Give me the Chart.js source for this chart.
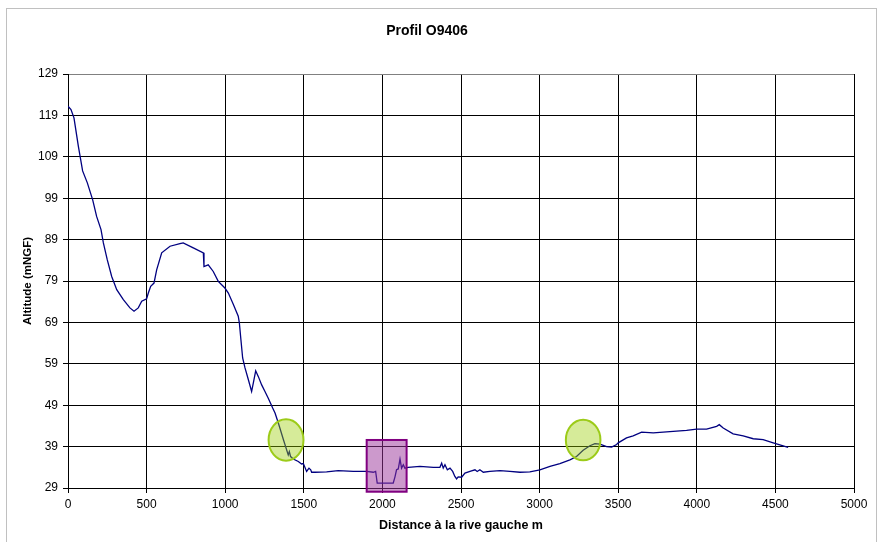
<!DOCTYPE html>
<html>
<head>
<meta charset="utf-8">
<title>Profil O9406</title>
<script src="https://cdn.jsdelivr.net/npm/chart.js@4"></script>
<style>
    body { margin: 0; background: #fff; }
    #wrap { width: 880px; height: 542px; }
</style>
</head>
<body>
<div id="wrap"><canvas id="profilChart" width="880" height="542"></canvas></div>
<script>
// Profil en travers - distances (m) et altitudes (mNGF)
const distances = [
    0, 19, 38, 66, 93, 123, 157, 182, 210, 225, 250, 278, 310, 352, 394, 420, 447, 469, 500, 511,
    526, 547, 564, 596, 649, 712, 733, 797, 861, 865, 892, 924, 956, 998, 1020, 1052, 1083, 1090, 1100, 1111,
    1126, 1147, 1168, 1179, 1194, 1211, 1232, 1253, 1274, 1302, 1317, 1338, 1370, 1401, 1408, 1416, 1433, 1465, 1486, 1497,
    1518, 1533, 1544, 1550, 1571, 1645, 1719, 1815, 1900, 1942, 1957, 1967, 2069, 2080, 2090, 2101, 2112, 2122, 2133, 2143,
    2164, 2239, 2324, 2366, 2377, 2387, 2398, 2413, 2430, 2447, 2461, 2472, 2482, 2504, 2525, 2557, 2589, 2603, 2620, 2642,
    2684, 2748, 2811, 2875, 2938, 3002, 3066, 3129, 3193, 3235, 3277, 3320, 3352, 3384, 3426, 3458, 3490, 3500, 3553, 3595,
    3649, 3723, 3850, 3935, 3999, 4062, 4126, 4143, 4168, 4231, 4295, 4359, 4422, 4486, 4581
];
const altitudes = [
    121.2, 120.4, 118.4, 111.5, 105.6, 102.7, 98.6, 94.6, 91.4, 88.2, 84.1, 80.1, 76.9, 74.5, 72.5, 71.7, 72.5, 74.1, 74.7, 76.1,
    77.7, 78.5, 81.7, 85.8, 87.4, 88.0, 88.2, 87.0, 85.8, 82.5, 82.9, 81.3, 78.9, 77.3, 76.1, 73.3, 70.5, 68.9, 64.8, 60.4,
    58.0, 55.2, 52.3, 54.4, 57.3, 55.9, 53.9, 52.3, 50.7, 48.3, 47.1, 44.7, 40.7, 37.0, 37.8, 36.6, 36.0, 35.4, 34.8, 34.9,
    33.0, 33.8, 33.4, 32.8, 32.8, 32.9, 33.2, 33.0, 33.0, 32.8, 33.0, 30.2, 30.2, 31.7, 33.4, 33.6, 36.0, 33.8, 34.6, 33.8,
    34.0, 34.2, 34.0, 34.0, 35.0, 33.8, 34.6, 33.4, 33.8, 33.0, 31.8, 31.2, 31.7, 31.6, 32.6, 33.0, 33.4, 33.0, 33.4, 32.8,
    33.0, 33.2, 33.0, 32.8, 32.9, 33.4, 34.2, 34.9, 35.8, 36.6, 38.1, 39.2, 39.7, 39.6, 39.0, 38.9, 39.5, 39.9, 41.1, 41.6,
    42.5, 42.3, 42.7, 42.9, 43.2, 43.2, 43.9, 44.3, 43.5, 42.1, 41.6, 40.9, 40.7, 39.9, 38.8
];

// Zones mises en évidence (unités du graphe : m / mNGF)
const zonesEllipse = [
    { x: 1387, y: 40.6, rx: 111, ry: 5.0 },
    { x: 3277, y: 40.6, rx: 110, ry: 4.9 }
];
const zonesRect = [
    { x0: 1900, x1: 2154, y0: 40.6, y1: 28.1 }
];

const yMin = 29, yMax = 129, yStep = 10;
const xMin = 0, xMax = 5000, xStep = 500;

const points = distances.map((d, i) => ({ x: d, y: altitudes[i] }));

// fond blanc + cadre gris autour du graphique
const cadrePlugin = {
    id: 'cadre',
    beforeDraw(chart) {
        const c = chart.ctx;
        c.save();
        c.fillStyle = '#fff';
        c.fillRect(0, 0, chart.width, chart.height);
        c.strokeStyle = '#c0c0c0';
        c.lineWidth = 1;
        c.strokeRect(6.5, 8.5, 870, 545);
        c.restore();
    }
};

// ellipses vertes et rectangle violet
const zonesPlugin = {
    id: 'zones',
    afterDatasetsDraw(chart) {
        const c = chart.ctx;
        const sx = chart.scales.x, sy = chart.scales.y;
        c.save();
        zonesRect.forEach(r => {
            const x0 = sx.getPixelForValue(r.x0), x1 = sx.getPixelForValue(r.x1);
            const y0 = sy.getPixelForValue(r.y0), y1 = sy.getPixelForValue(r.y1);
            c.fillStyle = 'rgba(153, 51, 153, 0.5)';
            c.fillRect(x0, y0, x1 - x0, y1 - y0);
            c.strokeStyle = '#800080';
            c.lineWidth = 2;
            c.strokeRect(x0, y0, x1 - x0, y1 - y0);
        });
        zonesEllipse.forEach(e => {
            const cx = sx.getPixelForValue(e.x), cy = sy.getPixelForValue(e.y);
            const rx = Math.abs(sx.getPixelForValue(e.x + e.rx) - cx);
            const ry = Math.abs(sy.getPixelForValue(e.y + e.ry) - cy);
            c.beginPath();
            c.ellipse(cx, cy, rx, ry, 0, 0, Math.PI * 2);
            c.fillStyle = 'rgba(153, 204, 0, 0.4)';
            c.fill();
            c.strokeStyle = '#9ccb19';
            c.lineWidth = 2;
            c.stroke();
        });
        c.restore();
    }
};

const ctx = document.getElementById('profilChart');

new Chart(ctx, {
    type: 'line',
    data: {
        datasets: [{
            label: 'Profil',
            data: points,
            borderColor: '#000080',
            borderWidth: 1.3,
            pointRadius: 0,
            tension: 0,
            fill: false
        }]
    },
    options: {
        responsive: false,
        animation: false,
        layout: { padding: { left: 0, right: 26, top: 0, bottom: 0 } },
        plugins: {
            legend: { display: false },
            tooltip: { enabled: false },
            title: {
                display: true,
                text: 'Profil O9406',
                color: '#000',
                font: { family: "'Liberation Sans', Arial, sans-serif", size: 14, weight: 'bold' },
                padding: { top: 22.6, bottom: 34.6 }
            }
        },
        scales: {
            x: {
                type: 'linear',
                min: xMin, max: xMax,
                afterFit: s => { s.height = 54; },
                ticks: {
                    stepSize: xStep,
                    color: '#000',
                    padding: 4,
                    maxRotation: 0,
                    callback: v => String(v),
                    font: { family: "'Liberation Sans', Arial, sans-serif", size: 12 }
                },
                grid: { color: '#000', lineWidth: 1, tickLength: 5, tickColor: '#000' },
                border: { display: true, color: '#000', width: 1 },
                title: {
                    display: true,
                    text: 'Distance à la rive gauche m',
                    color: '#000',
                    font: { family: "'Liberation Sans', Arial, sans-serif", size: 12.5, weight: 'bold' },
                    padding: { top: 0, bottom: 9 }
                }
            },
            y: {
                type: 'linear',
                min: yMin, max: yMax,
                afterFit: s => { s.width = 68; },
                ticks: {
                    stepSize: yStep,
                    color: '#000',
                    padding: 5,
                    callback: v => String(v),
                    font: { family: "'Liberation Sans', Arial, sans-serif", size: 12 }
                },
                grid: {
                    color: c => (c.tick && c.tick.value === yMax) ? '#808080' : '#000',
                    lineWidth: 1, tickLength: 5, tickColor: '#000'
                },
                border: { display: true, color: '#000', width: 1 },
                title: {
                    display: true,
                    text: 'Altitude (mNGF)',
                    color: '#000',
                    font: { family: "'Liberation Sans', Arial, sans-serif", size: 11.5, weight: 'bold' },
                    padding: { top: 20.8, bottom: 0 }
                }
            }
        }
    },
    plugins: [cadrePlugin, zonesPlugin]
});
</script>
</body>
</html>
